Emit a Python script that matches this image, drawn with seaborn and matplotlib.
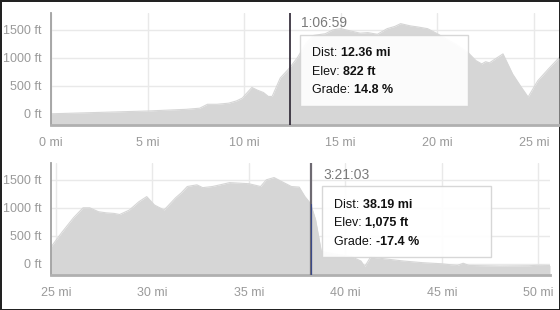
import matplotlib
matplotlib.use("Agg")
import matplotlib.pyplot as plt
import seaborn as sns
import pandas as pd
from matplotlib.patches import Rectangle

# ---- data ----
top_miles = [0, 1, 2, 3, 4, 5, 6, 7, 7.7, 8.1, 8.6, 9.2, 9.6, 9.9, 10.4, 10.7, 11.0,
             11.25, 11.45, 11.87, 12.36, 12.75, 13.2, 13.6, 14.2, 14.6, 15.0, 15.5,
             16.0, 16.4, 16.9, 17.4, 17.8, 18.1, 18.6, 19.0, 19.5, 20.0, 20.5, 21.0,
             21.6, 22.0, 22.3, 22.5, 22.7, 23.0, 23.4, 23.9, 24.3, 24.7, 25.2, 25.75, 26.3]
top_elev = [0, 10, 20, 30, 40, 50, 65, 80, 100, 170, 170, 190, 230, 280, 470, 420, 380,
            310, 310, 640, 822, 1000, 1250, 1400, 1430, 1500, 1520, 1480,
            1440, 1450, 1420, 1520, 1560, 1610, 1570, 1550, 1520, 1430, 1330, 1230,
            1090, 950, 890, 930, 910, 980, 1070, 710, 500, 300, 590, 800, 1000]

bot_miles = [24.74, 25.3, 25.9, 26.4, 26.75, 27.2, 27.6, 28.0, 28.3, 28.8, 29.3, 29.7,
             30.1, 30.6, 31.2, 31.5, 31.8, 32.3, 32.6, 33.1, 33.5, 34.0, 34.5, 35.0,
             35.6, 35.9, 36.3, 36.8, 37.2, 37.6, 37.9, 38.19, 38.45, 38.75, 39.5, 40.3,
             40.8, 41.0, 41.3, 42.0, 43.0, 44.0, 45.0, 45.8, 46.1, 46.4, 48.0, 49.5,
             50.0, 50.6]
bot_elev = [300, 560, 820, 1000, 1000, 930, 910, 900, 880, 960, 1110, 1200,
            1050, 960, 1180, 1270, 1380, 1410, 1360, 1380, 1410, 1450, 1440, 1430,
            1380, 1500, 1540, 1450, 1380, 1370, 1200, 1075, 790, 220, 170, 130,
            50, -50, 120, 90, 50, 20, 0, -30, 10, -30, -40, -35,
            -25, -30]

top_ticks = [0, 5, 10, 15, 20, 25]
bot_ticks = [25, 30, 35, 40, 45, 50]
y_ticks = [0, 500, 1000, 1500]

cursors = [
    {"time": "1:06:59", "dist": "12.36 mi", "elev": "822 ft", "grade": "14.8 %", "mi": 12.36},
    {"time": "3:21:03", "dist": "38.19 mi", "elev": "1,075 ft", "grade": "-17.4 %", "mi": 38.19},
]

# ---- style ----
sns.set_style("white")
plt.rcParams["font.family"] = ["Liberation Sans", "DejaVu Sans"]

W, H = 560, 310
fig = plt.figure(figsize=(W / 100, H / 100), dpi=100)
fig.patch.set_facecolor("white")
fig.patch.set_edgecolor("#222222")
fig.patch.set_linewidth(2)

def axes_rect(l, t, r, b):
    return [l / W, 1 - b / H, (r - l) / W, (b - t) / H]

ax_top = fig.add_axes(axes_rect(51, 13, 559, 125))
ax_bot = fig.add_axes(axes_rect(51, 163, 550, 275))

FILL = "#d6d6d6"
GRID = "#e9e9e9"
LABEL = "#9a9a9a"

panels = [
    (ax_top, top_miles, top_elev, top_ticks, (0, 26.3)),
    (ax_bot, bot_miles, bot_elev, bot_ticks, (24.74, 50.6)),
]
for ax, xs, ys, xt, xl in panels:
    df = pd.DataFrame({"mi": xs, "ft": ys})
    ax.set_xlim(*xl)
    ax.set_ylim(-200, 1800)
    ax.fill_between(df["mi"], df["ft"], -200, color=FILL, lw=0, zorder=2)
    sns.lineplot(data=df, x="mi", y="ft", ax=ax, color=FILL, lw=0.8, zorder=2)
    ax.set_xticks(xt)
    ax.set_xticklabels([f"{t} mi" for t in xt])
    ax.set_yticks(y_ticks)
    ax.set_yticklabels([f"{t} ft" for t in y_ticks])
    ax.grid(True, color=GRID, lw=1, zorder=0)
    ax.set_axisbelow(True)
    ax.set_xlabel("")
    ax.set_ylabel("")
    for s in ("top", "right"):
        ax.spines[s].set_visible(False)
    ax.spines["left"].set_color("#a0a0a0")
    ax.spines["left"].set_linewidth(1.3)
    ax.spines["bottom"].set_color("#b0b0b0")
    ax.spines["bottom"].set_linewidth(2)
    ax.tick_params(axis="both", length=0, labelsize=9, labelcolor=LABEL)
    ax.tick_params(axis="x", pad=9)
    ax.tick_params(axis="y", pad=7)

# cursor lines
ax_top.axvline(cursors[0]["mi"], color="#2a2230", lw=1.2, zorder=5)
ax_bot.axvline(cursors[1]["mi"], color="#6e6a72", lw=1.6, zorder=5)
ax_bot.plot([cursors[1]["mi"]] * 2, [-200, 1075], color="#3a4a8a", lw=0.8, zorder=6)

# tooltips (pixel layout)
def px(x, y):
    return x / W, 1 - y / H

boxes = [
    # box l, t, r, b ; text left ; line ys ; time label pos
    (300, 35, 468, 106, 312, [53, 72, 90], (301, 23)),
    (322, 186, 491, 257, 334, [205, 223, 242], (323, 175)),
]
fig.canvas.draw()
renderer = fig.canvas.get_renderer()
for c, (l, t, r, b, tx, lys, (tlx, tly)) in zip(cursors, boxes):
    x0, y0 = px(l, b)
    x1, y1 = px(r, t)
    fig.patches.append(Rectangle((x0, y0), x1 - x0, y1 - y0, transform=fig.transFigure,
                                 facecolor="white", edgecolor="#d4d4d4", lw=1,
                                 alpha=0.93, zorder=10))
    fig.text(*px(tlx, tly), c["time"], fontsize=10, color="#7a7a7a",
             ha="left", va="center", zorder=11)
    rows = [("Dist: ", c["dist"]), ("Elev: ", c["elev"]), ("Grade: ", c["grade"])]
    for (lab, val), ly in zip(rows, lys):
        t1 = fig.text(*px(tx, ly), lab, fontsize=9, color="#111111",
                      ha="left", va="center", zorder=11)
        bb = t1.get_window_extent(renderer)
        fig.text(*px(tx + bb.width, ly), val, fontsize=9, color="#111111",
                 fontweight="bold", ha="left", va="center", zorder=11)

fig.savefig("out.png", dpi=100, facecolor=fig.get_facecolor(), edgecolor=fig.get_edgecolor())
